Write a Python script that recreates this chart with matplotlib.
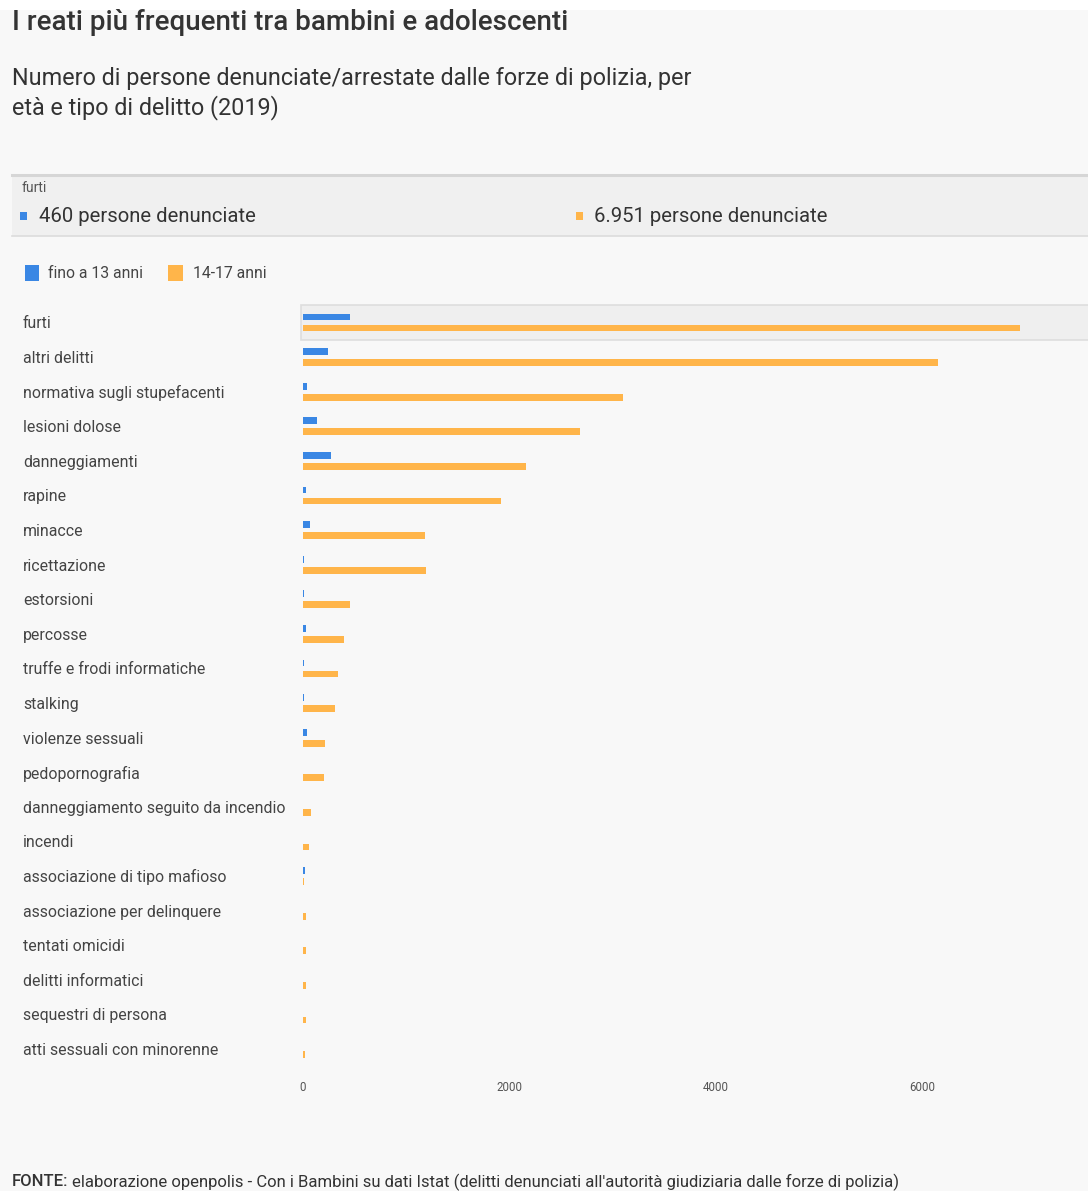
import numpy as np
from matplotlib import pyplot as plt
from matplotlib.patches import Rectangle
import matplotlib.transforms as mtransforms

plt.rcParams['font.family'] = ['Roboto', 'DejaVu Sans']

categorie = [
    "furti", "altri delitti", "normativa sugli stupefacenti", "lesioni dolose",
    "danneggiamenti", "rapine", "minacce", "ricettazione", "estorsioni",
    "percosse", "truffe e frodi informatiche", "stalking", "violenze sessuali",
    "pedopornografia", "danneggiamento seguito da incendio", "incendi",
    "associazione di tipo mafioso", "associazione per delinquere",
    "tentati omicidi", "delitti informatici", "sequestri di persona",
    "atti sessuali con minorenne",
]
fino_13 = [460, 242, 40, 136, 271, 30, 68, 12, 12, 30, 12, 10, 35, 4, 0, 2, 20, 0, 0, 0, 0, 2]
anni_14_17 = [6951, 6153, 3101, 2684, 2161, 1919, 1182, 1192, 460, 395, 340, 307,
              213, 207, 75, 58, 12, 25, 30, 25, 25, 18]
tick_vals = [0, 2000, 4000, 6000]

BLU = '#3a87e4'
ARANCIO = '#ffb54a'
TESTO = '#333333'

W, H = 1088, 1191
fig = plt.figure(figsize=(W / 100, H / 100), dpi=100)
fig.patch.set_facecolor('#f8f8f8')

def fx(px):
    return px / W

def fy(py):
    return 1 - py / H

# striscia bianca in alto
fig.patches.append(Rectangle((0, fy(10)), 1, 1 - fy(10), transform=fig.transFigure,
                             facecolor='white', edgecolor='none', zorder=0))

# titolo e sottotitolo
fig.text(fx(12), fy(23), "I reati più frequenti tra bambini e adolescenti",
         fontsize=20, color=TESTO, fontweight='medium', va='center', ha='left')
fig.text(fx(12), fy(78), "Numero di persone denunciate/arrestate dalle forze di polizia, per",
         fontsize=16.8, color=TESTO, va='center', ha='left')
fig.text(fx(12), fy(108), "età e tipo di delitto (2019)",
         fontsize=16.8, color=TESTO, va='center', ha='left')

# riquadro tooltip
fig.patches.append(Rectangle((fx(12), fy(236)), 1 - fx(12), fy(175) - fy(236),
                             transform=fig.transFigure, facecolor='#f0f0f0',
                             edgecolor='none', zorder=0))
fig.add_artist(plt.Line2D([fx(12), 1], [fy(175), fy(175)], color='#d6d6d6', lw=2.2))
fig.add_artist(plt.Line2D([fx(12), 1], [fy(236), fy(236)], color='#dcdcdc', lw=1.2))
fig.text(fx(22), fy(188), categorie[0], fontsize=10, color='#555555', va='center')
fig.patches.append(Rectangle((fx(20), fy(220)), fx(7), fy(212) - fy(220),
                             transform=fig.transFigure, facecolor=BLU, edgecolor='none'))
fig.text(fx(39), fy(216), f"{fino_13[0]} persone denunciate", fontsize=14.6,
         color=TESTO, va='center')
fig.patches.append(Rectangle((fx(576), fy(220)), fx(7), fy(212) - fy(220),
                             transform=fig.transFigure, facecolor=ARANCIO, edgecolor='none'))
fig.text(fx(594), fy(216), f"{anni_14_17[0]:,} persone denunciate".replace(',', '.'),
         fontsize=14.6, color=TESTO, va='center')

# legenda
fig.patches.append(Rectangle((fx(25), fy(281)), fx(14), fy(265) - fy(281),
                             transform=fig.transFigure, facecolor=BLU, edgecolor='none'))
fig.text(fx(48), fy(273), "fino a 13 anni", fontsize=11.3, color='#444444', va='center')
fig.patches.append(Rectangle((fx(168), fy(281)), fx(15), fy(265) - fy(281),
                             transform=fig.transFigure, facecolor=ARANCIO, edgecolor='none'))
fig.text(fx(193), fy(273), "14-17 anni", fontsize=11.3, color='#444444', va='center')

# grafico a barre
n = len(categorie)
row_px = 34.6
top_px = 322.5 - row_px / 2
bot_px = 322.5 + (n - 0.5) * row_px
ax = fig.add_axes([fx(303), fy(bot_px), 1 - fx(303), fy(top_px) - fy(bot_px)])
ax.set_facecolor('none')
for s in ax.spines.values():
    s.set_visible(False)

y = np.arange(n)
off = 0.16
h = 0.2
ax.barh(y - off, fino_13, height=h, color=BLU, zorder=3)
ax.barh(y + off, anni_14_17, height=h, color=ARANCIO, zorder=3)
ax.set_ylim(n - 0.5, -0.5)
ax.set_xlim(0, (W - 303) / 0.1032)

# evidenziazione riga "furti"
tr = mtransforms.blended_transform_factory(ax.transAxes, ax.transData)
ax.add_patch(Rectangle((-0.002, -0.5), 1.01, 1.0, transform=tr, facecolor='#efefef',
                       edgecolor='#dedede', lw=1.2, zorder=1, clip_on=False))

ax.set_yticks([])
ax.set_xticks(tick_vals)
ax.set_xticklabels([str(v) for v in tick_vals])
ax.tick_params(axis='x', length=0, pad=10.5, labelsize=8.3, labelcolor='#555555')

# etichette categorie
trl = mtransforms.blended_transform_factory(fig.transFigure, ax.transData)
for i, c in enumerate(categorie):
    ax.text(fx(23), i + 0.04, c, transform=trl, fontsize=11.4, color='#444444',
            va='center', ha='left', clip_on=False)

# fonte
t1 = fig.text(fx(12), fy(1182), "FONTE:", fontsize=12, color=TESTO,
              fontweight='medium', va='center')
fig.canvas.draw()
bb = t1.get_window_extent()
fig.text(bb.x1 / W + fx(4), fy(1182),
         "elaborazione openpolis - Con i Bambini su dati Istat (delitti denunciati "
         "all'autorità giudiziaria dalle forze di polizia)",
         fontsize=12, color=TESTO, va='center')

fig.savefig('out.png', dpi=100, facecolor=fig.get_facecolor())
